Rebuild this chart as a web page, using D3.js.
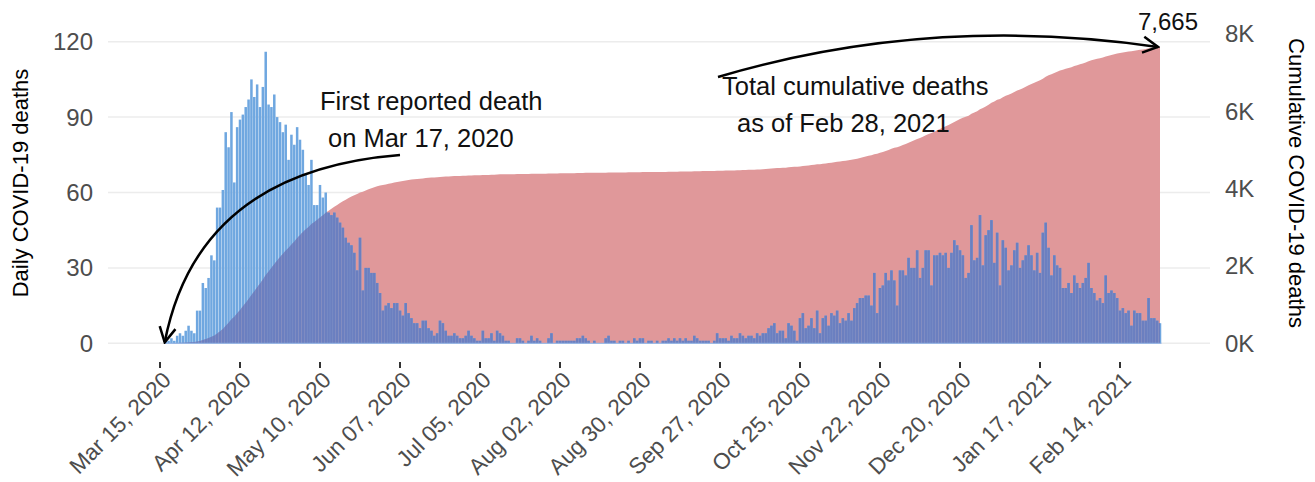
<!DOCTYPE html>
<html>
<head>
<meta charset="utf-8">
<script src="https://cdn.jsdelivr.net/npm/d3@7"></script>
<style>
  body { margin: 0; background: #fff; }
  svg { display: block; font-family: "Liberation Sans", Arial, sans-serif; }
</style>
</head>
<body>
<svg id="chart" width="1315" height="482"></svg>
<script>
// daily deaths, one value per day starting at firstDay
const firstDay = "2020-03-17";
const dailyDeaths = [
  1, 1, 2, 1, 3, 4, 3, 5, 7, 5,
  4, 13, 13, 24, 22, 26, 35, 33, 54, 54,
  61, 84, 78, 92, 64, 86, 89, 91, 94, 97,
  105, 98, 103, 94, 102, 116, 95, 94, 99, 90,
  88, 84, 87, 73, 83, 79, 86, 81, 77, 67,
  63, 73, 55, 55, 63, 58, 60, 52, 51, 52,
  50, 48, 46, 42, 40, 39, 36, 29, 42, 21,
  30, 30, 28, 28, 24, 20, 13, 15, 16, 14,
  16, 16, 13, 11, 16, 12, 10, 8, 8, 6,
  9, 9, 6, 5, 3, 4, 9, 8, 5, 3,
  3, 4, 3, 2, 2, 3, 5, 3, 2, 1,
  1, 5, 2, 2, 4, 1, 5, 4, 3, 1,
  1, 0, 0, 2, 2, 1, 0, 1, 3, 1,
  2, 1, 0, 0, 2, 4, 0, 1, 1, 1,
  1, 1, 1, 1, 2, 2, 3, 2, 1, 0,
  1, 0, 0, 0, 2, 3, 1, 1, 0, 1,
  1, 0, 1, 0, 2, 1, 2, 2, 0, 1,
  1, 0, 1, 0, 1, 1, 2, 1, 2, 1,
  2, 1, 2, 1, 1, 3, 2, 1, 1, 1,
  1, 0, 1, 4, 2, 2, 2, 1, 3, 2,
  2, 4, 3, 2, 3, 3, 2, 4, 3, 4,
  4, 6, 7, 8, 4, 5, 5, 2, 8, 7,
  5, 1, 10, 12, 6, 7, 10, 6, 13, 4,
  10, 11, 7, 12, 11, 13, 8, 10, 9, 12,
  9, 14, 16, 18, 18, 19, 19, 15, 28, 12,
  22, 23, 28, 25, 29, 25, 15, 29, 29, 27,
  34, 30, 30, 37, 26, 30, 37, 37, 23, 35,
  35, 36, 35, 36, 30, 36, 41, 39, 37, 35,
  26, 28, 47, 33, 34, 51, 31, 43, 45, 49,
  32, 44, 23, 41, 38, 29, 31, 37, 40, 30,
  33, 35, 39, 35, 29, 36, 28, 44, 48, 38,
  27, 35, 31, 30, 22, 22, 24, 20, 27, 24,
  22, 24, 26, 32, 22, 20, 17, 18, 16, 27,
  20, 21, 20, 18, 13, 14, 12, 13, 7, 13,
  12, 12, 9, 9, 18, 10, 10, 9, 8
];

const tickDates = ["2020-03-15", "2020-04-12", "2020-05-10", "2020-06-07", "2020-07-05",
  "2020-08-02", "2020-08-30", "2020-09-27", "2020-10-25", "2020-11-22",
  "2020-12-20", "2021-01-17", "2021-02-14"];
const leftTicks = [0, 30, 60, 90, 120];
const rightTicks = [0, 2000, 4000, 6000, 8000];
const secFactor = 65;        // cumulative = daily axis * secFactor
const totalLabel = "7,665";

const barColor = "#6fa7e0";
const areaColor = "#e0989a";
const overlapColor = "#6b7fc0";

const svg = d3.select("#chart");
const parse = d3.utcParse("%Y-%m-%d");
const fmt = d3.utcFormat("%b %d, %Y");

const x = d3.scaleUtc()
    .domain([parse("2020-03-15"), parse("2021-02-14")])
    .range([160, 1120]);
const y = d3.scaleLinear().domain([0, 120]).range([343.3, 41.7]);
const yCum = d3.scaleLinear().domain([0, 120 * secFactor]).range(y.range());

const t0 = parse(firstDay);
let running = 0;
const days = dailyDeaths.map((v, i) => {
    running += v;
    return { date: d3.utcDay.offset(t0, i), v: v, cum: running };
});
const last = days[days.length - 1];
const step = x(d3.utcDay.offset(t0, 1)) - x(t0);

svg.append("rect").attr("width", 1315).attr("height", 482).attr("fill", "#fff");

//////////////////
/// Grid lines ///
//////////////////

svg.append("g")
    .selectAll("line")
    .data(leftTicks)
    .enter()
    .append("line")
    .attr("x1", 108).attr("x2", 1210)
    .attr("y1", d => y(d)).attr("y2", d => y(d))
    .attr("stroke", "#ececec")
    .attr("stroke-width", 1.5);

////////////////////////
/// Area and columns ///
////////////////////////

const area = d3.area()
    .x(d => x(d.date))
    .y0(y(0))
    .y1(d => yCum(d.cum));

svg.append("defs").append("clipPath")
    .attr("id", "cumClip")
    .append("path")
    .attr("d", area(days));

svg.append("path")
    .attr("d", area(days))
    .attr("fill", areaColor);

function drawBars(g, color) {
    g.selectAll("rect")
        .data(days)
        .enter()
        .append("rect")
        .attr("x", d => x(d.date) - step * 0.44)
        .attr("width", step * 0.88)
        .attr("y", d => y(d.v))
        .attr("height", d => y(0) - y(d.v))
        .attr("fill", color);
}

drawBars(svg.append("g"), barColor);
drawBars(svg.append("g").attr("clip-path", "url(#cumClip)"), overlapColor);

svg.append("line")
    .attr("x1", x(t0) - step / 2).attr("x2", x(last.date) + step / 2)
    .attr("y1", y(0)).attr("y2", y(0))
    .attr("stroke", "#8fb3e6")
    .attr("stroke-width", 1);

////////////
/// Axes ///
////////////

const xTicks = svg.append("g");
tickDates.forEach(s => {
    const t = parse(s);
    xTicks.append("line")
        .attr("x1", x(t)).attr("x2", x(t))
        .attr("y1", 362).attr("y2", 368)
        .attr("stroke", "#333")
        .attr("stroke-width", 2);
    xTicks.append("text")
        .attr("transform", "translate(" + (x(t) + 1) + ",370) rotate(-45)")
        .attr("text-anchor", "end")
        .attr("dy", "0.72em")
        .attr("font-size", 22.5)
        .attr("fill", "#4d4d4d")
        .text(fmt(t));
});

svg.append("g")
    .selectAll("text")
    .data(leftTicks)
    .enter()
    .append("text")
    .attr("x", 93)
    .attr("y", d => y(d) + 8.5)
    .attr("text-anchor", "end")
    .attr("font-size", 24)
    .attr("fill", "#4d4d4d")
    .text(d => d);

svg.append("g")
    .selectAll("text")
    .data(rightTicks)
    .enter()
    .append("text")
    .attr("x", 1225)
    .attr("y", d => yCum(d) + 8.5)
    .attr("text-anchor", "start")
    .attr("font-size", 24)
    .attr("fill", "#4d4d4d")
    .text(d => (d / 1000) + "K");

svg.append("text")
    .attr("transform", "translate(28,183) rotate(-90)")
    .attr("text-anchor", "middle")
    .attr("font-size", 22)
    .attr("fill", "#000")
    .text("Daily COVID-19 deaths");

svg.append("text")
    .attr("transform", "translate(1289,183) rotate(90)")
    .attr("text-anchor", "middle")
    .attr("font-size", 22)
    .attr("fill", "#000")
    .text("Cumulative COVID-19 deaths");

///////////////////
/// Annotations ///
///////////////////

const defs = svg.select("defs");
defs.append("marker")
    .attr("id", "head")
    .attr("markerUnits", "userSpaceOnUse")
    .attr("viewBox", "-18 -10 20 20")
    .attr("markerWidth", 20).attr("markerHeight", 20)
    .attr("refX", 0).attr("refY", 0)
    .attr("orient", "auto")
    .append("path")
    .attr("d", "M-15,-8L0,0L-15,8")
    .attr("fill", "none")
    .attr("stroke", "#000")
    .attr("stroke-width", 2.5);

const tipFirst = [x(t0) - 1, y(0) - 1];
const tipTotal = [x(last.date) - 2, yCum(last.cum)];

svg.append("path")
    .attr("d", "M400,155Q198,171 " + tipFirst[0] + "," + tipFirst[1])
    .attr("fill", "none")
    .attr("stroke", "#000")
    .attr("stroke-width", 2.5)
    .attr("marker-end", "url(#head)");

svg.append("path")
    .attr("d", "M718,77Q931,14 " + tipTotal[0] + "," + tipTotal[1])
    .attr("fill", "none")
    .attr("stroke", "#000")
    .attr("stroke-width", 2.5)
    .attr("marker-end", "url(#head)");

const notes = [
    { text: "First reported death", x: 320, y: 110 },
    { text: "on Mar 17, 2020", x: 328, y: 147 },
    { text: "Total cumulative deaths", x: 722, y: 95 },
    { text: "as of Feb 28, 2021", x: 737, y: 132 }
];
svg.append("g")
    .selectAll("text")
    .data(notes)
    .enter()
    .append("text")
    .attr("x", d => d.x)
    .attr("y", d => d.y)
    .attr("font-size", 25.5)
    .attr("fill", "#111")
    .text(d => d.text);

svg.append("text")
    .attr("x", 1168)
    .attr("y", 30)
    .attr("text-anchor", "middle")
    .attr("font-size", 24)
    .attr("fill", "#111")
    .text(totalLabel);
</script>
</body>
</html>
